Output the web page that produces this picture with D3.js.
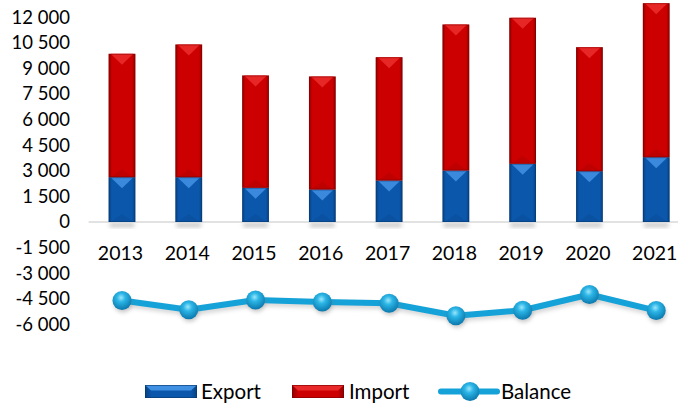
<!DOCTYPE html>
<html>
<head>
<meta charset="utf-8">
<script src="https://cdn.jsdelivr.net/npm/d3@7"></script>
<style>
  body { margin: 0; background: #fff; }
  svg text { font-family: Lato, "Open Sans", sans-serif; fill: #000; }
</style>
</head>
<body>
<div id="chart"></div>
<script>
const years = ["2013", "2014", "2015", "2016", "2017", "2018", "2019", "2020", "2021"];
const exportVals = [2625, 2625, 2004, 1904, 2432, 3017, 3410, 2977, 3797];
const importVals = [7230, 7775, 6580, 6621, 7224, 8555, 8555, 7265, 9023];
const balanceVals = [-4600, -5140, -4570, -4690, -4760, -5490, -5170, -4250, -5190];
const yTicks = [12000, 10500, 9000, 7500, 6000, 4500, 3000, 1500, 0, -1500, -3000, -4500, -6000];

const width = 678, height = 403;
const svg = d3.select("#chart").append("svg")
  .attr("width", width)
  .attr("height", height);

const defs = svg.append("defs");

// side shading for the bars
function barGrad(id, edge, mid) {
  const g = defs.append("linearGradient").attr("id", id)
    .attr("x1", "0%").attr("x2", "100%").attr("y1", "0%").attr("y2", "0%");
  g.append("stop").attr("offset", "0%").attr("stop-color", edge);
  g.append("stop").attr("offset", "12%").attr("stop-color", mid);
  g.append("stop").attr("offset", "88%").attr("stop-color", mid);
  g.append("stop").attr("offset", "100%").attr("stop-color", edge);
}
barGrad("gExport", "#08407f", "#0b57ab");
barGrad("gImport", "#8e0000", "#cc0000");

const ball = defs.append("radialGradient").attr("id", "gBall")
  .attr("cx", "45%").attr("cy", "35%").attr("r", "65%");
ball.append("stop").attr("offset", "0%").attr("stop-color", "#9be6fb");
ball.append("stop").attr("offset", "35%").attr("stop-color", "#2bb5e6");
ball.append("stop").attr("offset", "100%").attr("stop-color", "#0a78ad");

const blur = defs.append("filter").attr("id", "fBlur")
  .attr("x", "-50%").attr("y", "-50%").attr("width", "200%").attr("height", "200%");
blur.append("feGaussianBlur").attr("stdDeviation", 2);

const x = d3.scaleBand()
  .domain(years)
  .range([88.6, 689.6])
  .paddingInner(0.6)
  .paddingOuter(0.3);

const y = d3.scaleLinear()
  .domain([-6000, 12000])
  .range([324.4, 17.2]);

// y axis labels
const yAxis = d3.axisLeft(y)
  .tickValues(yTicks)
  .tickSize(0)
  .tickPadding(0)
  .tickFormat(d => d3.format(",")(d).replace(/,/g, " ").replace("−", "-"));

const yg = svg.append("g")
  .attr("transform", "translate(70,0)")
  .call(yAxis);
yg.select(".domain").remove();
yg.selectAll("text")
  .attr("font-size", 18.5)
  .attr("font-family", "Lato, sans-serif")
  .attr("fill", "#000");

// bar shadows
svg.append("g").selectAll("rect")
  .data(years)
  .join("rect")
  .attr("x", d => x(d) + 1)
  .attr("y", y(0) + 1)
  .attr("width", x.bandwidth() - 2)
  .attr("height", 4)
  .attr("fill", "#9a9a9a")
  .attr("opacity", 0.6)
  .attr("filter", "url(#fBlur)");

// zero line
svg.append("line")
  .attr("x1", x.range()[0]).attr("x2", width)
  .attr("y1", y(0)).attr("y2", y(0))
  .attr("stroke", "#d9d9d9")
  .attr("stroke-width", 1.5);

const stackData = years.map((yr, i) => ({ year: yr, exp: exportVals[i], imp: importVals[i] }));
const series = d3.stack().keys(["exp", "imp"])(stackData);
const fills = { exp: "url(#gExport)", imp: "url(#gImport)" };
const tops = { exp: "#3f8fe2", imp: "#ea2a2a" };
const bottoms = { exp: "#06376e", imp: "#7a0000" };

series.forEach(s => {
  const g = svg.append("g");
  g.selectAll("rect")
    .data(s)
    .join("rect")
    .attr("x", d => x(d.data.year))
    .attr("y", d => y(d[1]))
    .attr("width", x.bandwidth())
    .attr("height", d => y(d[0]) - y(d[1]))
    .attr("fill", fills[s.key]);
  // top bevel
  g.selectAll("path.top")
    .data(s)
    .join("path")
    .attr("class", "top")
    .attr("d", d => {
      const x0 = x(d.data.year), w = x.bandwidth(), t = y(d[1]);
      return `M${x0 + 2},${t} L${x0 + w - 2},${t} L${x0 + w / 2},${t + 11} Z`;
    })
    .attr("fill", tops[s.key])
    .attr("opacity", 0.9);
  // bottom shade
  g.selectAll("path.bot")
    .data(s)
    .join("path")
    .attr("class", "bot")
    .attr("d", d => {
      const x0 = x(d.data.year), w = x.bandwidth(), b = y(d[0]);
      return `M${x0 + 2},${b} L${x0 + w - 2},${b} L${x0 + w / 2},${b - 8} Z`;
    })
    .attr("fill", bottoms[s.key])
    .attr("opacity", 0.15);
  g.selectAll("rect.edge")
    .data(s)
    .join("rect")
    .attr("class", "edge")
    .attr("x", d => x(d.data.year) + 0.5)
    .attr("y", d => y(d[1]) + 0.5)
    .attr("width", x.bandwidth() - 1)
    .attr("height", d => y(d[0]) - y(d[1]) - 1)
    .attr("fill", "none")
    .attr("stroke", bottoms[s.key])
    .attr("stroke-opacity", 0.45)
    .attr("stroke-width", 1);
});

// year labels
svg.append("g").selectAll("text")
  .data(years)
  .join("text")
  .attr("x", d => x(d) + x.bandwidth() / 2 - 1.5)
  .attr("y", 253)
  .attr("dy", "0.35em")
  .attr("text-anchor", "middle")
  .attr("font-size", 19.5)
  .text(d => d);

// balance line
const cx = d => x(d) + x.bandwidth() / 2;
const line = d3.line()
  .x((d, i) => cx(years[i]))
  .y(d => y(d));

svg.append("path")
  .datum(balanceVals)
  .attr("d", line)
  .attr("fill", "none")
  .attr("stroke", "#8a8a8a")
  .attr("stroke-width", 6)
  .attr("opacity", 0.35)
  .attr("transform", "translate(1,3)")
  .attr("filter", "url(#fBlur)");

svg.append("path")
  .datum(balanceVals)
  .attr("d", line)
  .attr("fill", "none")
  .attr("stroke", "#14a2d8")
  .attr("stroke-width", 6)
  .attr("stroke-linejoin", "round");

svg.append("g").selectAll("circle.sh")
  .data(balanceVals)
  .join("circle")
  .attr("cx", (d, i) => cx(years[i]) + 1)
  .attr("cy", d => y(d) + 3)
  .attr("r", 9)
  .attr("fill", "#777")
  .attr("opacity", 0.4)
  .attr("filter", "url(#fBlur)");

svg.append("g").selectAll("circle.pt")
  .data(balanceVals)
  .join("circle")
  .attr("cx", (d, i) => cx(years[i]))
  .attr("cy", d => y(d))
  .attr("r", 9.5)
  .attr("fill", "url(#gBall)");

// legend
const legendY = 391.5;
const leg = svg.append("g");

function legendBar(x0, key) {
  const w = 52, h = 13;
  leg.append("rect")
    .attr("x", x0).attr("y", legendY - h / 2)
    .attr("width", w).attr("height", h)
    .attr("fill", fills[key]);
  leg.append("path")
    .attr("d", `M${x0},${legendY - h / 2} L${x0 + w},${legendY - h / 2} L${x0 + w - 6},${legendY - 1} L${x0 + 6},${legendY - 1} Z`)
    .attr("fill", tops[key]);
  leg.append("rect")
    .attr("x", x0 + 0.5).attr("y", legendY - h / 2 + 0.5)
    .attr("width", w - 1).attr("height", h - 1)
    .attr("fill", "none")
    .attr("stroke", bottoms[key])
    .attr("stroke-opacity", 0.6);
}
legendBar(145, "exp");
legendBar(292, "imp");

leg.append("line")
  .attr("x1", 441).attr("x2", 497)
  .attr("y1", legendY).attr("y2", legendY)
  .attr("stroke", "#14a2d8")
  .attr("stroke-width", 6)
  .attr("stroke-linecap", "round");
leg.append("circle")
  .attr("cx", 470).attr("cy", legendY)
  .attr("r", 9.5)
  .attr("fill", "url(#gBall)");

const legendLabels = [["Export", 201], ["Import", 349], ["Balance", 501]];
leg.selectAll("text")
  .data(legendLabels)
  .join("text")
  .attr("x", d => d[1])
  .attr("y", legendY)
  .attr("dy", "0.35em")
  .attr("font-size", 20.5)
  .text(d => d[0]);
</script>
</body>
</html>
